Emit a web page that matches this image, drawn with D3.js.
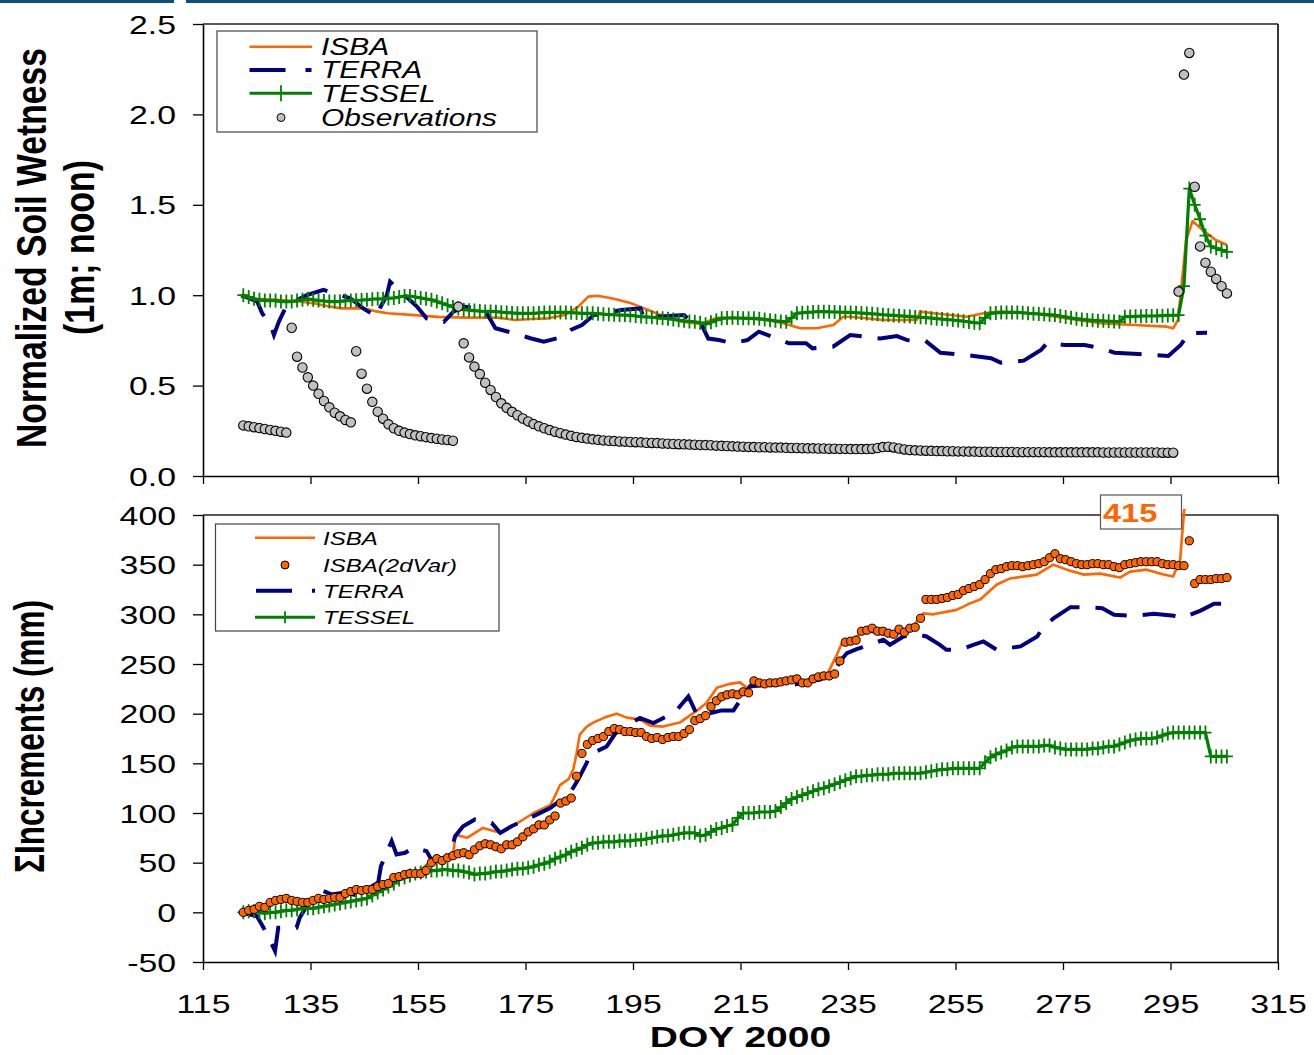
<!DOCTYPE html>
<html><head><meta charset="utf-8">
<script src="https://cdn.jsdelivr.net/npm/d3@7"></script>
<style>
body{margin:0;background:#fff}
svg{display:block}
text{font-family:"Liberation Sans",Arial,sans-serif;fill:#000}
</style>
</head><body>
<svg id="c" width="1314" height="1055"></svg>
<script>
// ---------------- DATA ----------------
const START_DAY = 122;          // first day of the daily series
const NOON = 0.5;               // daily values are valid at noon
const xTicks = [115,135,155,175,195,215,235,255,275,295,315];
const topYTicks = [0,0.5,1.0,1.5,2.0,2.5];
const topYLabels = ["0.0","0.5","1.0","1.5","2.0","2.5"];
const botYTicks = [-50,0,50,100,150,200,250,300,350,400];
const botYLabels = ["-50","0","50","100","150","200","250","300","350","400"];
const topLegend = ["ISBA","TERRA","TESSEL","Observations"];
const botLegend = ["ISBA","ISBA(2dVar)","TERRA","TESSEL"];
const peakLabel = "415";

// Top panel: normalized soil wetness
const isbaTop = [[122,0.99],[125,0.98],[129.5,0.973],[133,0.965],[135.7,0.955],[138,0.94],[140.7,0.927],[145,0.927],[147,0.912],[149.4,0.90],[154.4,0.89],[158.7,0.88],[163.7,0.876],[169.9,0.876],[173,0.863],[176,0.868],[179.2,0.872],[182.3,0.89],[184.8,0.936],[186.7,0.992],[188.5,0.997],[191.6,0.979],[194.7,0.955],[197.8,0.918],[200.9,0.881],[204,0.853],[207.1,0.842],[208.5,0.85],[210.6,0.875],[215.5,0.872],[219.9,0.863],[223,0.845],[226.1,0.817],[229.2,0.817],[232.3,0.835],[234.1,0.881],[235.4,0.881],[241.6,0.863],[247.8,0.863],[248.4,0.909],[250.9,0.90],[257.1,0.881],[260.2,0.90],[263.3,0.909],[269.5,0.90],[275.7,0.872],[281.9,0.845],[288.1,0.835],[294.3,0.826],[295.5,0.817],[296.4,0.863],[297.9,1.305],[299.1,1.41],[301,1.36],[303.4,1.305],[305.5,1.278]];

const terraTop = [[122.2,1.0],[125.1,0.964],[126,0.90],[127.6,0.835],[128.2,0.78],[129.1,0.853],[130.6,0.946],[134.3,1.0],[137.4,1.03],[142.4,0.983],[144.8,0.927],[147.3,0.881],[147.9,0.927],[149.2,1.0],[149.8,1.075],[151,1.04],[154.8,0.937],[156.6,0.872],[159.8,0.853],[161.6,0.909],[163.5,0.937],[166,0.927],[167.8,0.90],[169.4,0.817],[172.8,0.79],[175.9,0.762],[178.4,0.743],[180.9,0.762],[183.4,0.808],[185.5,0.835],[187.7,0.89],[190.2,0.90],[192.7,0.918],[196.4,0.927],[197,0.872],[199.5,0.881],[204.5,0.89],[205.8,0.853],[207.8,0.835],[209,0.76],[211,0.752],[213.5,0.734],[216.3,0.752],[218.4,0.798],[224,0.734],[227.2,0.734],[228.4,0.706],[232.2,0.715],[235.4,0.78],[241,0.76],[244.1,0.774],[246,0.752],[249.4,0.748],[252.2,0.682],[258.4,0.664],[261.6,0.651],[263.4,0.627],[267.7,0.638],[270.9,0.697],[272.1,0.737],[275.2,0.725],[279,0.725],[282.1,0.706],[284.6,0.682],[289,0.675],[294.6,0.664],[296.9,0.725],[298.4,0.79],[301.8,0.793]];

const tesselTop = [
 1.00,0.99,0.98,0.975,0.97,0.97,0.97,0.965,0.965,0.965,
 0.97,0.975,0.98,0.975,0.97,0.968,0.965,0.965,0.965,0.97,
 0.97,0.972,0.973,0.975,0.978,0.98,0.98,0.982,0.985,0.99,
 0.995,0.995,0.99,0.985,0.98,0.975,0.965,0.955,0.945,0.935,
 0.927,0.92,0.917,0.915,0.912,0.91,0.91,0.909,0.906,0.904,
 0.902,0.90,0.90,0.90,0.90,0.902,0.904,0.905,0.905,0.905,
 0.905,0.903,0.902,0.90,0.90,0.90,0.898,0.895,0.893,0.892,
 0.89,0.89,0.888,0.885,0.882,0.88,0.878,0.875,0.872,0.87,
 0.866,0.862,0.858,0.855,0.853,0.848,0.84,0.85,0.862,0.872,
 0.874,0.875,0.874,0.873,0.872,0.872,0.87,0.866,0.862,0.858,
 0.855,0.853,0.875,0.90,0.903,0.905,0.907,0.909,0.909,0.908,
 0.907,0.906,0.905,0.905,0.903,0.901,0.899,0.897,0.895,0.892,
 0.89,0.888,0.886,0.884,0.882,0.88,0.878,0.876,0.873,0.87,
 0.868,0.865,0.863,0.86,0.856,0.852,0.848,0.845,0.875,0.90,
 0.902,0.904,0.905,0.905,0.905,0.903,0.90,0.898,0.896,0.894,
 0.892,0.89,0.885,0.88,0.875,0.87,0.866,0.863,0.861,0.859,
 0.858,0.856,0.855,0.853,0.881,0.882,0.883,0.884,0.885,0.885,
 0.886,0.887,0.888,0.889,0.89,1.05,1.59,1.50,1.42,1.33,
 1.27,1.26,1.25,1.24];

const obsTop = [
 0.28,0.275,0.27,0.265,0.26,0.255,0.25,0.245,0.24,0.82,
 0.66,0.60,0.546,0.50,0.455,0.415,0.38,0.35,0.33,0.31,
 0.297,0.69,0.566,0.483,0.41,0.356,0.317,0.286,0.264,0.25,
 0.24,0.232,0.225,0.22,0.215,0.21,0.206,0.202,0.199,0.195,
 0.937,0.734,0.656,0.605,0.564,0.516,0.476,0.437,0.402,0.377,
 0.355,0.336,0.318,0.302,0.287,0.275,0.264,0.254,0.245,0.237,
 0.229,0.222,0.216,0.211,0.207,0.203,0.200,0.197,0.195,0.193,
 0.191,0.190,0.188,0.187,0.186,0.184,0.183,0.182,0.180,0.179,
 0.177,0.176,0.175,0.174,0.173,0.172,0.171,0.170,0.168,0.167,
 0.166,0.164,0.163,0.162,0.161,0.160,0.159,0.159,0.158,0.157,
 0.157,0.156,0.155,0.155,0.154,0.153,0.153,0.152,0.152,0.151,
 0.151,0.150,0.150,0.149,0.149,0.149,0.149,0.151,0.155,0.160,
 0.162,0.158,0.152,0.147,0.144,0.142,0.141,0.140,0.139,0.138,
 0.138,0.137,0.137,0.136,0.136,0.135,0.135,0.134,0.134,0.134,
 0.133,0.133,0.133,0.133,0.132,0.132,0.132,0.132,0.132,0.132,
 0.131,0.131,0.131,0.131,0.131,0.131,0.131,0.131,0.131,0.131,
 0.130,0.130,0.130,0.130,0.130,0.130,0.130,0.130,0.130,0.130,
 0.130,0.129,0.129,0.129,1.02,2.22,2.34,1.60,1.27,1.18,
 1.13,1.09,1.05,1.01];

// Bottom panel: cumulated increments (mm)
const isbaBot = [[122,0],[124,3],[126,6],[128,12],[130,14],[133,10],[136,13],[140,15],[142,20],[145,23],[148,28],[150,34],[153,39],[155,40],[157,50],[159,53],[161.5,58],[162,78],[164.1,75],[167.1,85],[170.3,80],[172.7,87],[176.5,100],[179.6,108],[180.2,114],[181.4,128],[183,134],[183.9,144],[184.5,160],[185.1,179],[186.4,187],[187.6,191],[190.1,197],[192,200],[193.8,196],[196.3,194],[198.2,188],[200.6,187],[203.7,191],[206.9,203],[208.7,211],[210.6,226],[213,230],[214.9,231.5],[216.2,226],[217.4,232.5],[220,231],[224,234],[226,231],[228,235],[231,238],[232.9,259],[234.1,274],[236,275],[238,284],[241,280],[244.7,280],[247.1,288],[249,301],[250.9,300],[255.2,304.5],[257.7,311],[259.6,315],[262.7,330],[265.1,336],[270.1,340],[273.2,350],[275.7,345],[278.8,340],[281.9,341],[285.6,337],[287.5,343],[290.6,345],[293.7,340],[295.5,338],[296.8,355],[297.7,415]];

const isba2dVar = [
 0,2,3,6,5,10,12,13,14,12,
 11,10,10,12,14,13,14,15,15,19,
 21,23,22,23,23,26,28,29,35,36,
 38,39,39,39,42,50,54,52,55,57,
 59,60,58,63,67,69,68,66,64,68,
 68,71,76,81,84,88,88,93,97,110,
 112,115,137,160,169,173,175,177,182,185,
 184,182,182,181,181,177,175,176,174,176,
 177,177,180,184,193,195,198,207,213,217,
 219,220,219,222,221,233,231,230,231,231,
 232,233,234,235,231,231,235,237,238,238,
 240,253,272,273,274,283,284,286,283,283,
 281,280,285,282,286,287,296,315,315,315,
 316,317,319,320,324,326,328,330,335,341,
 345,346,348,349,349,348,349,350,351,353,
 357,361,356,355,353,351,350,350,351,351,
 350,350,348,347,350,351,352,353,353,353,
 353,351,350,350,349,349,374,331,335,335,
 335,336,336,337];

const terraBot = [[121.9,0],[125,-3.7],[125.9,-12],[127.1,-23.8],[128.4,-38.9],[129,-15.4],[132.4,-15.4],[133,-5.3],[135.8,19.8],[137.4,21.4],[138.9,18],[141.4,20],[144.2,16.4],[146.1,25],[147.6,30],[148.1,46.5],[150.1,71.7],[151,58.3],[152.6,60],[154.1,65],[156.6,61.6],[157.8,50],[159.1,53],[161,58],[161.9,76.7],[163.4,86.7],[165.6,93.5],[168.7,90],[170.3,80],[172.4,86.7],[175.8,95],[179.6,105],[183.3,120.3],[184.8,133.7],[186.4,150.5],[187,160.5],[188.2,162],[190.1,167],[191.7,180],[193.5,187.2],[196.3,195.7],[198.8,190.6],[201.3,197.3],[203.1,203.3],[205.3,217.4],[206.9,199],[209,200],[211.5,203.3],[213.7,203.3],[215.5,218],[216.8,227.4],[219.6,229],[222.3,229],[224.8,229],[227.9,232.5],[229.8,234.2],[232.3,240.9],[233.5,252.6],[234.8,261],[236.6,265],[238.2,267.7],[241.6,274.4],[242.8,269.3],[245.3,277.7],[247.8,280],[249.6,277.7],[252.1,269.3],[253.3,264.3],[255.8,264.3],[258.3,269.3],[260.2,272.7],[262.7,264.3],[267.1,267.7],[270.2,277.7],[271.4,287.8],[273.3,296.2],[276.4,307.2],[278.3,307.2],[282.3,306.2],[284.5,299.5],[288.2,298.5],[291.9,300.5],[295.6,298.5],[297.2,296.2],[300.6,303.8],[303.1,310.6],[305.5,310.6]];

const tesselBot = [
 0,1,1,0,-1,0,0,1,2,2,
 3,4,4,4,5,6,7,8,9,10,
 11,12,13,14,17,20,23,26,29,33,
 35,37,39,40,41,42,42,43,43,42,
 42,41,40,38,39,39,40,41,41,42,
 43,44,44,45,46,48,49,51,54,56,
 58,61,63,65,68,70,70,71,71,71,
 72,72,72,73,73,74,75,76,77,77,
 78,79,80,80,80,77,78,81,84,85,
 87,88,95,100,100,100,101,101,101,102,
 106,110,114,116,118,120,122,124,125,127,
 129,131,133,135,137,137,138,138,139,139,
 139,140,140,140,140,140,140,141,142,143,
 144,144,145,145,145,145,145,145,151,156,
 159,161,163,166,167,167,167,167,167,168,
 168,166,165,164,164,164,164,164,165,165,
 166,167,167,169,171,173,174,175,175,175,
 176,178,180,181,181,181,181,181,181,181,
 157,157,157,157];

// ---------------- DRAWING ----------------
const C = {isba:"#FF6600", terra:"#000080", tessel:"#008000", obs:"#C0C0C0"};
const SX = 1.3; // horizontal stretch of the original lettering
const svg = d3.select("#c");
const x = d3.scaleLinear().domain([115,315]).range([203,1278]);
const yTop = d3.scaleLinear().domain([0,2.5]).range([476,24]);
const yBot = d3.scaleLinear().domain([-50,400]).range([962,515]);
const daily = arr => arr.map((v,i)=>[START_DAY+i+NOON, v]);

// header rule
svg.append("line").attr("x1",0).attr("x2",174).attr("y1",1.5).attr("y2",1.5).attr("stroke","#0c4f7a").attr("stroke-width",3);
svg.append("line").attr("x1",186).attr("x2",1314).attr("y1",1.5).attr("y2",1.5).attr("stroke","#0c4f7a").attr("stroke-width",3);

function stretchText(g, str, px, py, size, opts={}) {
  const t = g.append("text")
    .attr("transform", opts.rotate ? `translate(${px},${py}) rotate(-90) scale(1,${SX})` : `translate(${px},${py}) scale(${SX},1)`)
    .attr("font-size", size)
    .attr("text-anchor", opts.anchor || "start")
    .text(str);
  if (opts.bold) t.attr("font-weight","bold");
  if (opts.italic) t.attr("font-style","italic");
  if (opts.fill) t.style("fill", opts.fill);
  if (opts.len) t.attr("textLength", opts.len).attr("lengthAdjust","spacingAndGlyphs");
  return t;
}

function frame(yScale, top, bottom) {
  svg.append("line").attr("x1",203).attr("x2",1278).attr("y1",top).attr("y2",top).attr("stroke","#222").attr("stroke-width",1.5);
  svg.append("line").attr("x1",1278).attr("x2",1278).attr("y1",top).attr("y2",bottom).attr("stroke","#222").attr("stroke-width",1.8);
}

function leftAxis(yScale, ticks, labels) {
  const g = svg.append("g").attr("transform","translate(203,0)")
    .call(d3.axisLeft(yScale).tickValues(ticks).tickSize(10).tickSizeOuter(0).tickFormat((d,i)=>labels[i]));
  g.select(".domain").attr("stroke","#000").attr("stroke-width",1.6);
  g.selectAll(".tick line").attr("stroke","#000").attr("stroke-width",1.3);
  g.selectAll(".tick text").attr("x",0).attr("dy",0).attr("y",9)
    .attr("transform",`translate(-27,0) scale(${SX},1)`).attr("font-size",26).attr("fill","#000")
    .attr("font-family","Liberation Sans, Arial, sans-serif").attr("text-anchor","end");
}
function bottomAxis(yPos, withLabels) {
  const ax = d3.axisBottom(x).tickValues(xTicks).tickSize(8).tickSizeOuter(0);
  if (!withLabels) ax.tickFormat("");
  const g = svg.append("g").attr("transform",`translate(0,${yPos})`).call(ax);
  g.select(".domain").attr("stroke","#000").attr("stroke-width",1.6);
  g.selectAll(".tick line").attr("stroke","#000").attr("stroke-width",1.3);
  if (withLabels) {
    g.selectAll(".tick text").attr("y",0).attr("dy",0)
      .attr("transform",`translate(0,51) scale(${SX},1)`).attr("font-size",26).attr("fill","#000")
      .attr("font-family","Liberation Sans, Arial, sans-serif").attr("text-anchor","middle");
  }
}

const plus = "M-6,0H6M0,-7V7";

// ----- TOP PANEL -----
frame(yTop, 24, 476);
leftAxis(yTop, topYTicks, topYLabels);
bottomAxis(476, false);

const lineTop = d3.line().x(d=>x(d[0])).y(d=>yTop(d[1]));
const gt = svg.append("g");
gt.append("path").datum(isbaTop).attr("d",lineTop).attr("fill","none").attr("stroke",C.isba).attr("stroke-width",2.6).attr("stroke-linejoin","round");
gt.append("path").datum(terraTop).attr("d",lineTop).attr("fill","none").attr("stroke",C.terra).attr("stroke-width",4).attr("stroke-dasharray","33,16");
gt.append("path").datum(daily(tesselTop)).attr("d",lineTop).attr("fill","none").attr("stroke",C.tessel).attr("stroke-width",3.2).attr("stroke-linejoin","round");
gt.selectAll("path.tp").data(daily(tesselTop)).join("path").attr("class","tp")
  .attr("d",plus).attr("transform",d=>`translate(${x(d[0])},${yTop(d[1])})`)
  .attr("stroke",C.tessel).attr("stroke-width",1.8).attr("fill","none");
gt.selectAll("circle.obs").data(daily(obsTop)).join("circle").attr("class","obs")
  .attr("cx",d=>x(d[0])).attr("cy",d=>yTop(d[1])).attr("r",4.7)
  .attr("fill",C.obs).attr("stroke","#000").attr("stroke-width",1.1);

// top legend
const lt = svg.append("g");
lt.append("rect").attr("x",217).attr("y",31).attr("width",320).attr("height",101).attr("fill","#fff").attr("stroke","#444").attr("stroke-width",1.2);
const ltRows = [46.7,70,93.3,117.5];
lt.append("line").attr("x1",249.5).attr("x2",312).attr("y1",ltRows[0]).attr("y2",ltRows[0]).attr("stroke",C.isba).attr("stroke-width",2.6);
lt.append("line").attr("x1",249.5).attr("x2",312).attr("y1",ltRows[1]).attr("y2",ltRows[1]).attr("stroke",C.terra).attr("stroke-width",4).attr("stroke-dasharray","36,20,6,40");
lt.append("line").attr("x1",249.5).attr("x2",312).attr("y1",ltRows[2]).attr("y2",ltRows[2]).attr("stroke",C.tessel).attr("stroke-width",3);
lt.append("path").attr("d","M0,-8V8").attr("transform",`translate(281,${ltRows[2]})`).attr("stroke",C.tessel).attr("stroke-width",1.8);
lt.append("circle").attr("cx",281).attr("cy",ltRows[3]).attr("r",4).attr("fill",C.obs).attr("stroke","#000").attr("stroke-width",1);
topLegend.forEach((s,i)=>stretchText(lt, s, 321, ltRows[i]+8.3, 23, {italic:true}));

// ----- BOTTOM PANEL -----
frame(yBot, 515, 962);
leftAxis(yBot, botYTicks, botYLabels);
bottomAxis(962, true);

svg.append("clipPath").attr("id","clipB").append("rect").attr("x",203).attr("y",509).attr("width",1075).attr("height",453);
const lineBot = d3.line().x(d=>x(d[0])).y(d=>yBot(d[1]));
const gb = svg.append("g").attr("clip-path","url(#clipB)");
gb.append("path").datum(isbaBot).attr("d",lineBot).attr("fill","none").attr("stroke",C.isba).attr("stroke-width",2.6).attr("stroke-linejoin","round");
gb.append("path").datum(terraBot).attr("d",lineBot).attr("fill","none").attr("stroke",C.terra).attr("stroke-width",4).attr("stroke-dasharray","33,16");
gb.append("path").datum(daily(tesselBot)).attr("d",lineBot).attr("fill","none").attr("stroke",C.tessel).attr("stroke-width",3.2).attr("stroke-linejoin","round");
gb.selectAll("path.tp").data(daily(tesselBot)).join("path").attr("class","tp")
  .attr("d",plus).attr("transform",d=>`translate(${x(d[0])},${yBot(d[1])})`)
  .attr("stroke",C.tessel).attr("stroke-width",1.8).attr("fill","none");
gb.selectAll("circle.dv").data(daily(isba2dVar)).join("circle").attr("class","dv")
  .attr("cx",d=>x(d[0])).attr("cy",d=>yBot(d[1])).attr("r",4.1)
  .attr("fill",C.isba).attr("stroke","#000").attr("stroke-width",1);

// peak label box
const pk = svg.append("g");
pk.append("rect").attr("x",1100.5).attr("y",495).attr("width",81).attr("height",34).attr("fill","#fff").attr("stroke","#555").attr("stroke-width",1.2);
stretchText(pk, peakLabel, 1103, 522, 25, {bold:true, fill:C.isba});

// bottom legend
const lb = svg.append("g");
lb.append("rect").attr("x",215.5).attr("y",524).attr("width",283.5).attr("height",107).attr("fill","#fff").attr("stroke","#444").attr("stroke-width",1.2);
const lbRows = [537.7,565,590.7,617.3];
lb.append("line").attr("x1",255).attr("x2",315).attr("y1",lbRows[0]).attr("y2",lbRows[0]).attr("stroke",C.isba).attr("stroke-width",2.6);
lb.append("circle").attr("cx",285).attr("cy",lbRows[1]).attr("r",4).attr("fill",C.isba).attr("stroke","#000").attr("stroke-width",1);
lb.append("line").attr("x1",256).attr("x2",315).attr("y1",lbRows[2]).attr("y2",lbRows[2]).attr("stroke",C.terra).attr("stroke-width",4).attr("stroke-dasharray","36,20,3.5,40");
lb.append("line").attr("x1",255).attr("x2",315).attr("y1",lbRows[3]).attr("y2",lbRows[3]).attr("stroke",C.tessel).attr("stroke-width",3);
lb.append("path").attr("d","M0,-6V6").attr("transform",`translate(285,${lbRows[3]})`).attr("stroke",C.tessel).attr("stroke-width",1.8);
botLegend.forEach((s,i)=>stretchText(lb, s, 323, lbRows[i]+7, 18.5, {italic:true}));

// axis titles
stretchText(svg, "Normalized Soil Wetness", 46, 248, 33, {rotate:true, bold:true, anchor:"middle", len:400});
stretchText(svg, "(1m; noon)", 94, 247.5, 33, {rotate:true, bold:true, anchor:"middle", len:175});
stretchText(svg, "\u03A3Increments (mm)", 44, 736.5, 32, {rotate:true, bold:true, anchor:"middle", len:273});
stretchText(svg, "DOY 2000", 740.5, 1047, 30, {bold:true, anchor:"middle"});
</script>
</body></html>
